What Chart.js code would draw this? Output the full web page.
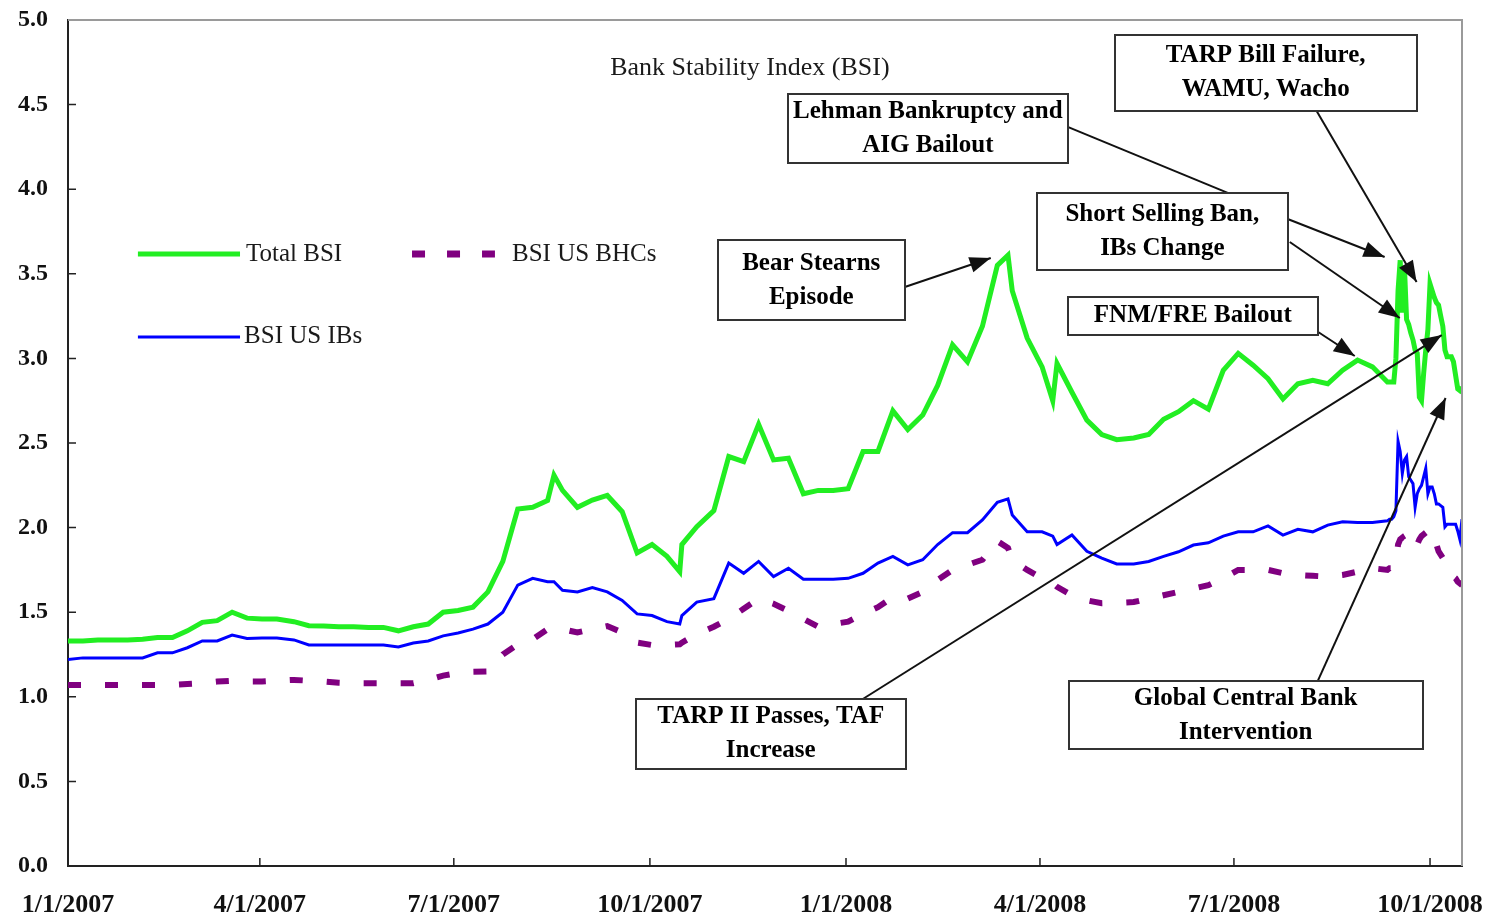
<!DOCTYPE html>
<html>
<head>
<meta charset="utf-8">
<title>Bank Stability Index (BSI)</title>
<script src="https://cdn.jsdelivr.net/npm/chart.js@4.4.1/dist/chart.umd.min.js"></script>
<style>
  html, body { margin: 0; padding: 0; background: #fff; }
  canvas { display: block; }
</style>
</head>
<body>
<canvas id="bsiChart" width="1487" height="918"></canvas>
<script>
// days since 1/1/2007
const days = [
    0, 7, 14, 21, 28, 35, 42, 49, 56, 63,
    70, 77, 84, 91, 98, 106, 113, 120, 127, 134,
    141, 148, 155, 162, 169, 176, 183, 190, 197, 204,
    211, 218, 225, 228, 232, 239, 246, 253, 260, 267, 274,
    281, 287, 288, 295, 303, 310, 317, 324, 331, 338, 345,
    352, 359, 366, 373, 380, 387, 394, 401, 408, 415,
    422, 429, 436, 441, 443, 450, 457, 462, 464, 471, 478, 485,
    492, 500, 507, 514, 521, 528, 535, 542, 549, 556,
    563, 570, 577, 584, 591, 598, 605, 612, 619,
    620, 621, 622, 623, 624, 625, 626, 627, 628, 629,
    630, 631, 632, 633, 634, 635, 636, 637, 638, 639,
    640, 641, 642, 643, 644, 645, 646, 647, 648, 649,
    650, 651, 652, 653, 654
];

const totalBSI = [
    1.33, 1.33, 1.335, 1.335, 1.335, 1.34, 1.35, 1.35, 1.39, 1.44,
    1.45, 1.50, 1.465, 1.46, 1.46, 1.444, 1.42, 1.418, 1.414, 1.414,
    1.41, 1.41, 1.39, 1.414, 1.43, 1.50, 1.51, 1.53, 1.62, 1.80,
    2.11, 2.12, 2.16, 2.31, 2.22, 2.12, 2.163, 2.19, 2.094, 1.85, 1.90,
    1.83, 1.74, 1.90, 2.005, 2.10, 2.42, 2.39, 2.61, 2.40, 2.41, 2.20,
    2.22, 2.22, 2.23, 2.45, 2.45, 2.69, 2.58, 2.665, 2.84, 3.08,
    2.98, 3.19, 3.55, 3.61, 3.40, 3.12, 2.95, 2.75, 2.97, 2.80, 2.635, 2.55,
    2.52, 2.53, 2.55, 2.64, 2.685, 2.75, 2.70, 2.93, 3.03, 2.96,
    2.88, 2.76, 2.85, 2.87, 2.85, 2.93, 2.99, 2.95, 2.86,
    2.86, 2.86, 2.86, 3.0, 3.4, 3.58, 3.27, 3.54, 3.23, 3.20,
    3.15, 3.11, 3.05, 3.03, 2.77, 2.75, 2.91, 3.05, 3.17, 3.44,
    3.40, 3.36, 3.33, 3.315, 3.25, 3.19, 3.05, 3.01, 3.01, 3.01,
    2.98, 2.90, 2.82, 2.81, 2.83
];

const ibBSI = [
    1.22, 1.23, 1.23, 1.23, 1.23, 1.23, 1.26, 1.26, 1.29, 1.33,
    1.33, 1.365, 1.345, 1.347, 1.347, 1.336, 1.306, 1.306, 1.306, 1.306,
    1.306, 1.306, 1.294, 1.318, 1.33, 1.36, 1.377, 1.40, 1.43, 1.50,
    1.66, 1.70, 1.68, 1.68, 1.63, 1.62, 1.645, 1.62, 1.57, 1.49, 1.48,
    1.444, 1.43, 1.48, 1.56, 1.58, 1.79, 1.73, 1.80, 1.71, 1.76, 1.695,
    1.695, 1.695, 1.70, 1.73, 1.79, 1.83, 1.78, 1.81, 1.90, 1.97,
    1.97, 2.045, 2.15, 2.17, 2.075, 1.975, 1.975, 1.95, 1.90, 1.956, 1.86, 1.82,
    1.785, 1.785, 1.80, 1.83, 1.857, 1.897, 1.91, 1.95, 1.975, 1.975,
    2.01, 1.956, 1.99, 1.975, 2.015, 2.035, 2.03, 2.03, 2.04,
    2.05, 2.05, 2.064, 2.1, 2.51, 2.45, 2.32, 2.40, 2.42, 2.30,
    2.28, 2.26, 2.12, 2.20, 2.23, 2.25, 2.30, 2.35, 2.20, 2.24,
    2.24, 2.20, 2.14, 2.14, 2.13, 2.12, 2.005, 2.02, 2.02, 2.02,
    2.02, 2.02, 1.98, 1.93, 2.05
];

const bhcBSI = [
    1.07, 1.07, 1.07, 1.07, 1.07, 1.07, 1.07, 1.07, 1.075, 1.08,
    1.09, 1.095, 1.09, 1.09, 1.095, 1.10, 1.095, 1.09, 1.083, 1.08,
    1.08, 1.08, 1.08, 1.08, 1.10, 1.125, 1.14, 1.148, 1.15, 1.25,
    1.31, 1.34, 1.40, 1.40, 1.40, 1.38, 1.40, 1.418, 1.38, 1.32, 1.306,
    1.306, 1.31, 1.32, 1.37, 1.414, 1.46, 1.52, 1.58, 1.55, 1.508, 1.46,
    1.414, 1.43, 1.444, 1.49, 1.53, 1.59, 1.58, 1.62, 1.69, 1.75,
    1.78, 1.81, 1.92, 1.88, 1.81, 1.75, 1.70, 1.67, 1.65, 1.60, 1.57, 1.553,
    1.555, 1.56, 1.58, 1.60, 1.62, 1.64, 1.66, 1.70, 1.75, 1.75,
    1.75, 1.73, 1.72, 1.715, 1.71, 1.72, 1.74, 1.76, 1.75,
    1.76, 1.76, 1.77, 1.80, 1.90, 1.93, 1.94, 1.92, 1.90, 1.88,
    1.87, 1.87, 1.87, 1.90, 1.93, 1.95, 1.96, 1.97, 1.98, 1.99,
    1.98, 1.95, 1.90, 1.86, 1.84, 1.82, 1.80, 1.77, 1.75, 1.73,
    1.71, 1.70, 1.68, 1.67, 1.66
];

const tickDays = [0, 90, 181, 273, 365, 456, 547, 639];
const tickLabels = ['1/1/2007', '4/1/2007', '7/1/2007', '10/1/2007', '1/1/2008', '4/1/2008', '7/1/2008', '10/1/2008'];

const SERIF = '"Liberation Serif", "Times New Roman", serif';

// callout boxes: centre in (day, value), size in px, arrows as [fromDay, fromVal, toDay, toVal, head]
const notes = [
    { lines: ['Bear Stearns', 'Episode'], at: [348.7, 3.463], w: 187, h: 80,
      arrows: [[392.6, 3.422, 432.9, 3.593, true]] },
    { lines: ['Lehman Bankruptcy and', 'AIG Bailout'], at: [403.4, 4.359], w: 280, h: 69,
      arrows: [[469.0, 4.368, 544.1, 3.978, false], [572.2, 3.824, 617.7, 3.599, true]] },
    { lines: ['TARP Bill Failure,', 'WAMU, Wacho'], at: [561.9, 4.687], w: 302, h: 76,
      arrows: [[585.8, 4.462, 632.7, 3.452, true]] },
    { lines: ['Short Selling Ban,', 'IBs Change'], at: [513.4, 3.750], w: 251, h: 77,
      arrows: [[573.2, 3.688, 624.8, 3.239, true]] },
    { lines: ['FNM/FRE Bailout'], at: [527.7, 3.251], w: 250, h: 38,
      arrows: [[585.8, 3.162, 603.7, 3.014, true]] },
    { lines: ['TARP II Passes, TAF', 'Increase'], at: [329.7, 0.780], w: 270, h: 70,
      arrows: [[372.9, 0.987, 644.5, 3.138, true]] },
    { lines: ['Global Central Bank', 'Intervention'], at: [552.5, 0.892], w: 354, h: 68,
      arrows: [[586.3, 1.093, 646.3, 2.766, true]] }
];

function drawArrow(ctx, x1, y1, x2, y2, head) {
    ctx.beginPath();
    ctx.moveTo(x1, y1);
    ctx.lineTo(x2, y2);
    ctx.stroke();
    if (!head) return;
    const a = Math.atan2(y2 - y1, x2 - x1);
    const len = 21, half = 8;
    const bx = x2 - len * Math.cos(a), by = y2 - len * Math.sin(a);
    ctx.beginPath();
    ctx.moveTo(x2, y2);
    ctx.lineTo(bx + half * Math.sin(a), by - half * Math.cos(a));
    ctx.lineTo(bx - half * Math.sin(a), by + half * Math.cos(a));
    ctx.closePath();
    ctx.fill();
}

const overlay = {
    id: 'overlay',
    afterDraw(chart) {
        const { ctx, chartArea: area, scales: { x, y } } = chart;
        const px = d => x.getPixelForValue(d);
        const py = v => y.getPixelForValue(v);
        ctx.save();

        // grey frame on top and right
        ctx.strokeStyle = '#9a9a9a';
        ctx.lineWidth = 2;
        ctx.beginPath();
        ctx.moveTo(area.left, area.top);
        ctx.lineTo(area.right, area.top);
        ctx.lineTo(area.right, area.bottom);
        ctx.stroke();

        // inward tick marks
        ctx.strokeStyle = '#222';
        ctx.lineWidth = 1.5;
        ctx.beginPath();
        for (let v = 0.5; v < 5; v += 0.5) {
            ctx.moveTo(area.left, py(v));
            ctx.lineTo(area.left + 8, py(v));
        }
        tickDays.slice(1).forEach(d => {
            ctx.moveTo(px(d), area.bottom);
            ctx.lineTo(px(d), area.bottom - 8);
        });
        ctx.stroke();

        // title
        ctx.fillStyle = '#1a1a1a';
        ctx.font = '26px ' + SERIF;
        ctx.textAlign = 'center';
        ctx.textBaseline = 'middle';
        ctx.fillText('Bank Stability Index (BSI)', px(319.9), py(4.716));

        // legend
        ctx.textAlign = 'left';
        ctx.font = '25px ' + SERIF;
        ctx.lineCap = 'butt';
        ctx.strokeStyle = '#22ee22';
        ctx.lineWidth = 5;
        ctx.beginPath();
        ctx.moveTo(px(32.8), py(3.617));
        ctx.lineTo(px(80.7), py(3.617));
        ctx.stroke();
        ctx.fillText('Total BSI', px(83.5), py(3.617));

        ctx.strokeStyle = '#800080';
        ctx.lineWidth = 7;
        ctx.setLineDash([13, 22]);
        ctx.beginPath();
        ctx.moveTo(px(161.4), py(3.617));
        ctx.lineTo(px(200.3), py(3.617));
        ctx.stroke();
        ctx.setLineDash([]);
        ctx.fillText('BSI US BHCs', px(208.3), py(3.617));

        ctx.strokeStyle = '#0000ff';
        ctx.lineWidth = 3;
        ctx.beginPath();
        ctx.moveTo(px(32.8), py(3.127));
        ctx.lineTo(px(80.7), py(3.127));
        ctx.stroke();
        ctx.fillText('BSI US IBs', px(82.6), py(3.127));

        // callout arrows, then boxes on top
        ctx.strokeStyle = '#111';
        ctx.fillStyle = '#111';
        ctx.lineWidth = 2;
        notes.forEach(n => n.arrows.forEach(a =>
            drawArrow(ctx, px(a[0]), py(a[1]), px(a[2]), py(a[3]), a[4])));

        ctx.font = 'bold 25px ' + SERIF;
        ctx.textAlign = 'center';
        notes.forEach(n => {
            const cx = px(n.at[0]), cy = py(n.at[1]);
            const left = Math.round(cx - n.w / 2), top = Math.round(cy - n.h / 2);
            ctx.fillStyle = '#fff';
            ctx.fillRect(left, top, n.w, n.h);
            ctx.strokeStyle = '#333';
            ctx.lineWidth = 2;
            ctx.strokeRect(left, top, n.w, n.h);
            ctx.fillStyle = '#000';
            const step = 34;
            const first = cy - (n.lines.length - 1) * step / 2;
            n.lines.forEach((t, i) => ctx.fillText(t, cx, first + i * step));
        });

        ctx.restore();
    }
};

const toPoints = vals => days.map((d, i) => ({ x: d, y: vals[i] }));

new Chart(document.getElementById('bsiChart'), {
    type: 'line',
    data: {
        datasets: [
            {
                label: 'BSI US BHCs',
                data: toPoints(bhcBSI),
                borderColor: '#800080',
                borderWidth: 6,
                borderDash: [13, 24],
                pointRadius: 0,
                tension: 0
            },
            {
                label: 'BSI US IBs',
                data: toPoints(ibBSI),
                borderColor: '#0000ff',
                borderWidth: 3,
                pointRadius: 0,
                tension: 0
            },
            {
                label: 'Total BSI',
                data: toPoints(totalBSI),
                borderColor: '#22ee22',
                borderWidth: 5,
                pointRadius: 0,
                tension: 0
            }
        ]
    },
    options: {
        responsive: false,
        animation: false,
        devicePixelRatio: 1,
        layout: { padding: { top: 20, right: 25, left: 0, bottom: 0 } },
        plugins: {
            legend: { display: false },
            tooltip: { enabled: false }
        },
        scales: {
            x: {
                type: 'linear',
                min: 0,
                max: 654,
                grid: { display: false, drawTicks: false },
                border: { color: '#222', width: 2 },
                afterBuildTicks: scale => {
                    scale.ticks = tickDays.map(v => ({ value: v }));
                },
                afterFit: scale => {
                    scale.height = 52;
                    scale.paddingLeft = 0;
                    scale.paddingRight = 0;
                },
                ticks: {
                    autoSkip: false,
                    maxRotation: 0,
                    padding: 24,
                    color: '#111',
                    font: { family: SERIF, size: 26, weight: 'bold' },
                    callback: (value, index) => tickLabels[index]
                }
            },
            y: {
                min: 0,
                max: 5,
                grid: { display: false, drawTicks: false },
                border: { color: '#222', width: 2 },
                afterFit: scale => {
                    scale.width = 68;
                    scale.paddingTop = 0;
                    scale.paddingBottom = 0;
                },
                ticks: {
                    stepSize: 0.5,
                    padding: 20,
                    color: '#111',
                    font: { family: SERIF, size: 24, weight: 'bold' },
                    callback: value => value.toFixed(1)
                }
            }
        }
    },
    plugins: [overlay]
});
</script>
</body>
</html>
